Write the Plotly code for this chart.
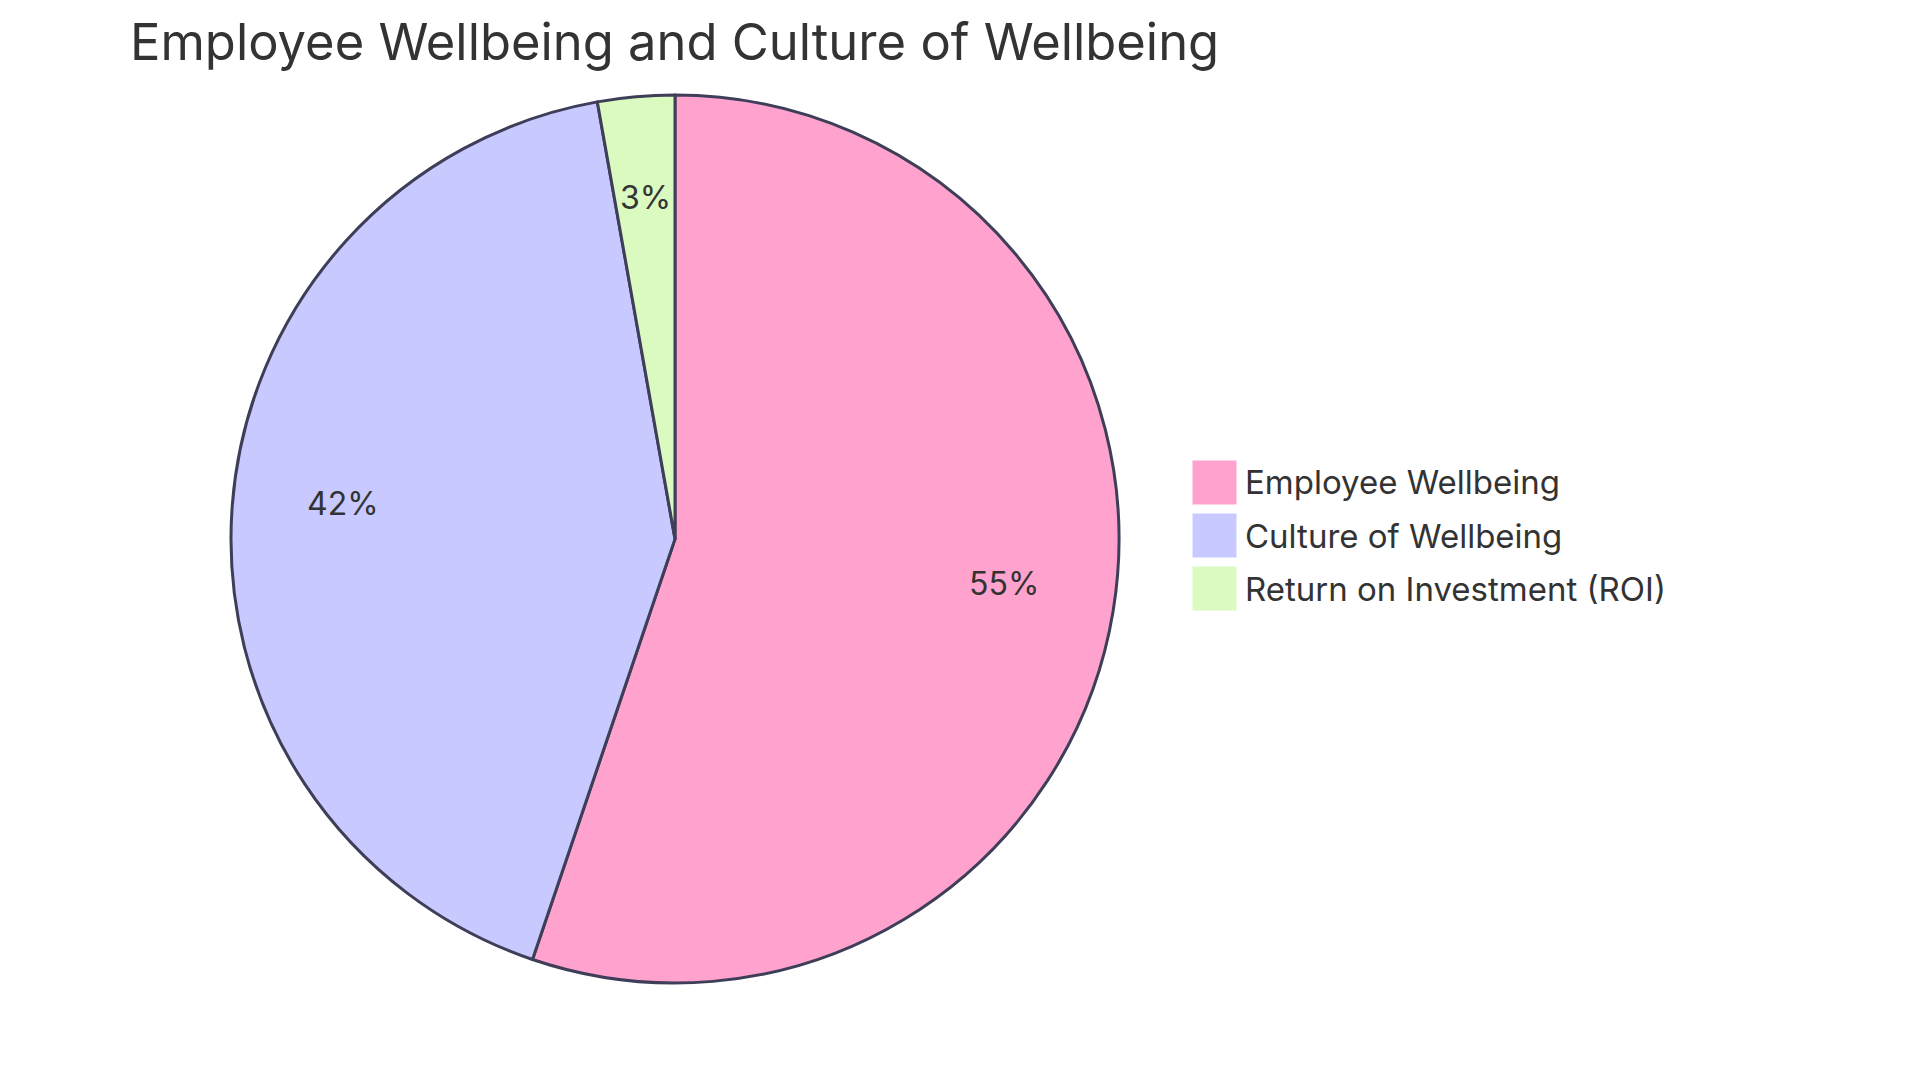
import math
import plotly.graph_objects as go

labels = ["Employee Wellbeing", "Culture of Wellbeing", "Return on Investment (ROI)"]
values = [55.2, 42.0, 2.8]
colors = ["#FFA3CE", "#C8CAFF", "#DBFAC0"]
title_text = "Employee Wellbeing and Culture of Wellbeing"

W, H = 1920, 1080
OFF = 8  # page body margin
cx, cy, r = 675 - OFF, 539 - OFF, 444
FONT = "Inter, Noto Sans, sans-serif"
STROKE = "#3E3E58"

fig = go.Figure(go.Pie(
    labels=labels, values=values, sort=False, direction="clockwise", rotation=0,
    marker=dict(colors=colors, line=dict(color=STROKE, width=3)),
    textinfo="none", hoverinfo="label+percent", showlegend=False,
    domain=dict(x=[(cx - r) / W, (cx + r) / W], y=[1 - (cy + r) / H, 1 - (cy - r) / H]),
))

annotations = []
total = sum(values)
cum = 0
for v in values:
    mid = (cum + v / 2) / total * 2 * math.pi
    cum += v
    px = cx + 0.75 * r * math.sin(mid)
    py = cy - 0.75 * r * math.cos(mid)
    annotations.append(dict(
        x=px / W, y=1 - py / H, xref="paper", yref="paper", showarrow=False, yshift=10,
        text=f"{round(v / total * 100)}%", font=dict(family=FONT, size=32, color="#333333"),
        xanchor="center", yanchor="middle"))

shapes = []
lx, ly0, sz, gap = 1192 - OFF, 460 - OFF, 45, 53
for i, (lab, col) in enumerate(zip(labels, colors)):
    top = ly0 + i * gap
    shapes.append(dict(type="rect", xref="paper", yref="paper",
                       x0=lx / W, x1=(lx + sz) / W, y0=1 - (top + sz) / H, y1=1 - top / H,
                       fillcolor=col, line=dict(color="white", width=1)))
    annotations.append(dict(x=(lx + sz + 6) / W, y=1 - (top + sz / 2) / H, xref="paper", yref="paper",
                            showarrow=False, text=lab, xanchor="left", yanchor="middle",
                            font=dict(family=FONT, size=33, color="#333333")))

fig.update_layout(
    width=W, height=H, margin=dict(l=0, r=0, t=0, b=0),
    paper_bgcolor="white", plot_bgcolor="white",
    title=dict(text=title_text, x=(130 - OFF) / W, xanchor="left", xref="paper",
               y=1 - (42 - OFF) / H, yanchor="middle", yref="container",
               font=dict(family=FONT, size=50.7, color="#333333")),
    annotations=annotations, shapes=shapes,
)
fig.write_html("out.html")
